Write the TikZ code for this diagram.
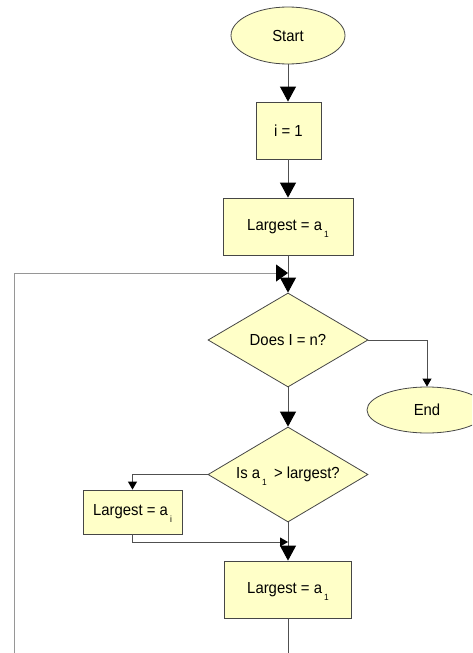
\documentclass[tikz,border=0pt]{standalone}
\usepackage{fontspec}
\setmainfont[FakeStretch=0.93]{Liberation Sans}
\usetikzlibrary{shapes.geometric,arrows.meta}
\definecolor{fillY}{RGB}{255,255,200}
\definecolor{edgeG}{RGB}{70,70,70}
\definecolor{lineG}{RGB}{80,80,80}
\definecolor{loopG}{RGB}{150,150,150}
\newcommand{\sbsc}[1]{\smash{\hspace{2pt}\raisebox{-7pt}{\fontsize{9}{9}\selectfont #1}}}
\tikzset{
  shp/.style={draw=edgeG, line width=0.8pt, fill=fillY, inner sep=0pt, font=\fontsize{16}{17}\selectfont},
  procbox/.style={shp, rectangle},
  termbox/.style={shp, ellipse},
  decbox/.style={shp, diamond, aspect=1.7},
  conn/.style={draw=lineG, line width=0.9pt},
  bigarr/.style={conn, -{Triangle[length=15pt,width=16pt,color=black]}},
  smallarr/.style={conn, -{Triangle[length=8pt,width=9pt,color=black]}},
  sidearr/.style={conn, -{Triangle[length=12pt,width=17pt,color=black]}},
}
\begin{document}
\begin{tikzpicture}[x=1pt,y=-1pt]
\useasboundingbox (0,0) rectangle (472,653);
\node[termbox, minimum width=114, minimum height=57] (start) at (288,35.5) {Start};
\node[procbox, minimum width=65, minimum height=57] (i1) at (288.5,130.5) {i = 1};
\node[procbox, minimum width=130, minimum height=57] (L1) at (288,226.5) {Largest = a\sbsc{1}};
\node[decbox, minimum width=160, minimum height=94] (D1) at (288,340) {Does I = n?};
\begin{scope}
\clip (0,0) rectangle (472,653);
\node[termbox, minimum width=120, minimum height=46] (end) at (427,410) {End};
\end{scope}
\node[decbox, minimum width=160, minimum height=95] (D2) at (288,474.5) {Is a\sbsc{1}\hspace{3pt} > largest?};
\node[procbox, minimum width=99, minimum height=44] (Lai) at (132.5,512) {Largest = a\sbsc{i}};
\node[procbox, minimum width=127, minimum height=57] (L2) at (288,589.5) {Largest = a\sbsc{1}};
\coordinate (fbA) at (14,653);
\coordinate (fbB) at (288,273);
\coordinate (jn) at (288,542);
\coordinate (btm) at (288,653);
\draw[bigarr] (start.south) -- (i1.north -| start.south);
\draw[bigarr] (i1.south -| L1.north) -- (L1.north);
\draw[bigarr] (L1.south) -- (D1.north);
\draw[sidearr, draw=loopG] (fbA) |- (fbB);
\draw[smallarr] (D1.east) -| (end.north);
\draw[bigarr] (D1.south) -- (D2.north);
\draw[smallarr] (D2.west) -| (Lai.north);
\draw[smallarr] (Lai.south) |- (jn);
\draw[bigarr] (D2.south) -- (L2.north);
\draw[conn] (L2.south) -- (btm);
\end{tikzpicture}
\end{document}
